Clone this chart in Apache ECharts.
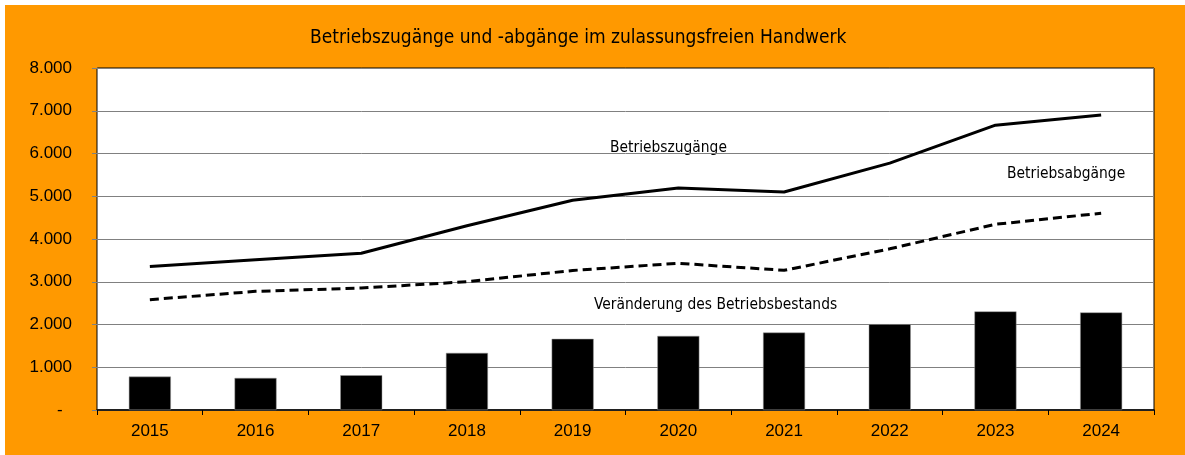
<!DOCTYPE html>
<html lang="de">
<head>
	<meta charset="UTF-8">
	<title>Betriebszugänge und -abgänge</title>
	<script src="https://cdn.jsdelivr.net/npm/echarts@6/dist/echarts.min.js"></script>
	<style>
		body{margin:0;background:#fff;}
		#app{position:absolute;left:5px;top:5px;width:1180px;height:450px;}
	</style>
</head>
<body>
	<div id="app"></div>

	<script>
		// Daten
		var jahre=["2015","2016","2017","2018","2019","2020","2021","2022","2023","2024"];
		var zugaenge=[3357,3512,3667,4310,4907,5193,5098,5774,6662,6898];
		var abgaenge=[2581,2775,2853,3000,3264,3432,3267,3770,4344,4603];
		var bestand=[781,750,813,1336,1664,1733,1812,2008,2306,2282];

		var schrift='"Liberation Sans Narrow", "DejaVu Sans Condensed", "Liberation Sans", sans-serif';
		var zahlSchrift='"Liberation Sans", Arial, sans-serif';

		function tausender(v){
			if(v===0) return '-\u2007';
			return String(v).replace(/\B(?=(\d{3})+(?!\d))/g,'.');
		}

		var myChart=echarts.init(document.getElementById('app'));
		var option={
			backgroundColor:'#FF9900',
			animation:false,
			title:{
				text:'Betriebszugänge und -abgänge im zulassungsfreien Handwerk',
				left:300,
				top:19,
				textStyle:{fontFamily:schrift,fontSize:19,fontWeight:'normal',color:'#000'}
			},
			grid:{
				left:92,right:31,top:63,bottom:45,
				show:true,
				backgroundColor:'#fff',
				borderColor:'#000',
				borderWidth:1
			},
			xAxis:{
				type:'category',
				data:jahre,
				axisLine:{lineStyle:{color:'#000',width:1.5}},
				axisTick:{show:true,length:5,lineStyle:{color:'#000'}},
				axisLabel:{color:'#000',fontSize:17,fontFamily:zahlSchrift,margin:13}
			},
			yAxis:{
				type:'value',
				min:0,max:8000,interval:1000,
				axisLine:{show:true,lineStyle:{color:'#808080'}},
				axisTick:{show:true,length:5,lineStyle:{color:'#808080'}},
				splitLine:{lineStyle:{color:'#808080',width:1}},
				axisLabel:{color:'#000',fontSize:17,fontFamily:zahlSchrift,margin:25,formatter:tausender}
			},
			series:[
				{
					name:'Veränderung des Betriebsbestands',
					type:'bar',
					data:bestand,
					barWidth:42,
					itemStyle:{color:'#000',borderColor:'#999',borderWidth:0.5}
				},
				{
					name:'Betriebszugänge',
					type:'line',
					data:zugaenge,
					symbol:'none',
					lineStyle:{color:'#000',width:3}
				},
				{
					name:'Betriebsabgänge',
					type:'line',
					data:abgaenge,
					symbol:'none',
					lineStyle:{color:'#000',width:3,type:[9,5]}
				}
			],
			graphic:[
				{type:'text',left:605,top:135,style:{text:'Betriebszugänge',fontFamily:schrift,fontSize:15.4,fill:'#000'}},
				{type:'text',left:1002,top:161,style:{text:'Betriebsabgänge',fontFamily:schrift,fontSize:15.4,fill:'#000'}},
				{type:'text',left:589,top:292,style:{text:'Veränderung des Betriebsbestands',fontFamily:schrift,fontSize:15.4,fill:'#000'}}
			]
		};
		myChart.setOption(option);
	</script>
</body>
</html>
